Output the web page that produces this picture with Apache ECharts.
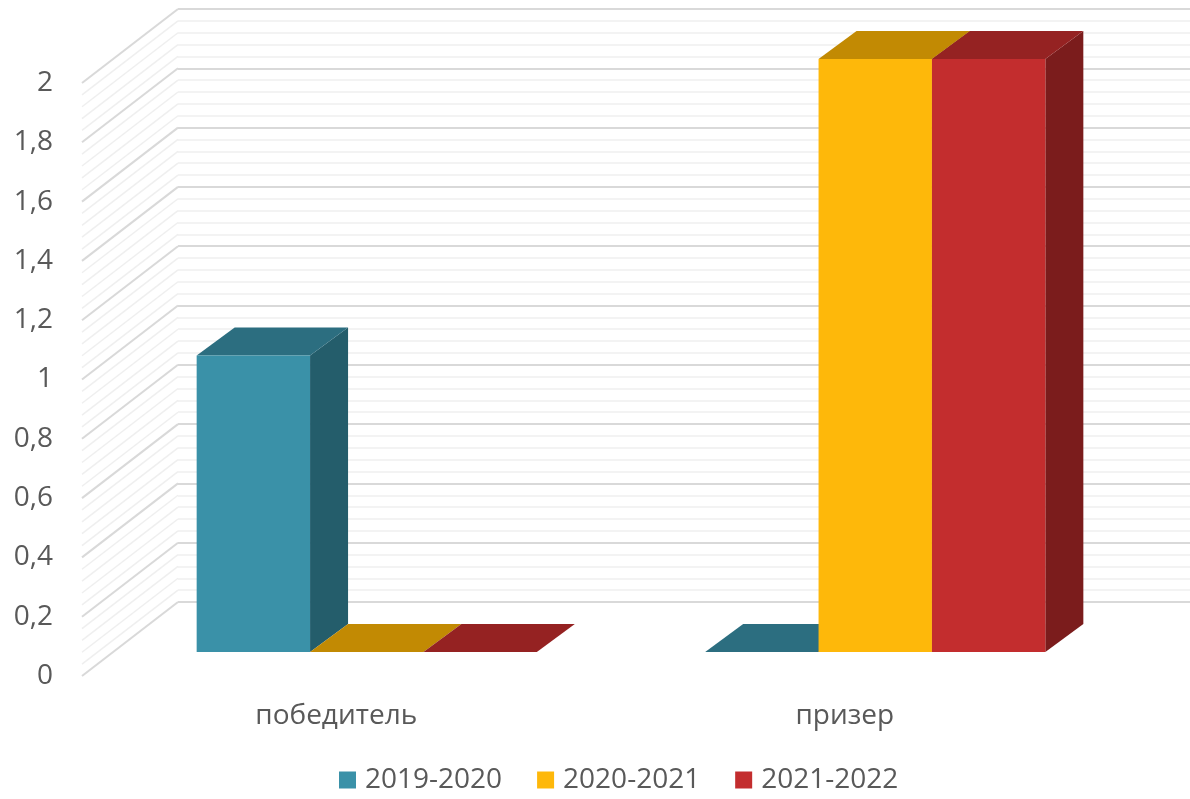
<!DOCTYPE html>
<html>
<head>
<meta charset="utf-8">
<script src="https://cdn.jsdelivr.net/npm/echarts@6/dist/echarts.min.js"></script>
<style>
html,body{margin:0;padding:0;background:#fff;}
#chart{width:1190px;height:799px;}
</style>
</head>
<body>
<div id="chart"></div>
<script>
// ---- data ----
const categories = ['победитель', 'призер'];
const seriesNames = ['2019-2020', '2020-2021', '2021-2022'];
const values2019 = [1, 0];
const values2020 = [0, 2];
const values2021 = [0, 2];
const yMin = 0;
const yMax = 2;
const yInterval = 0.2;
const yMinorSplit = 5;

// ---- style ----
const FONT = '"Open Sans", "Noto Sans", sans-serif';
const TEXT = '#595959';
const faceColors = [
  { front: '#3A91A8', top: '#2C6E80', side: '#245D6B' },
  { front: '#FEB80A', top: '#C28A03', side: '#A87702' },
  { front: '#C32D2E', top: '#952222', side: '#7B1C1C' }
];
const WALL_DX = 96, WALL_DY = -74;   // depth of the chart floor (pixels)
const BAR_DX = 38, BAR_DY = -28;     // depth of a bar (pixels)
const BAR_FRAC = 0.223;              // bar width as share of a category

const seriesValues = [values2019, values2020, values2021];

// wall tick values derived from the axis settings
const wallTicks = [];
const nMinor = Math.round((yMax - yMin) / yInterval * yMinorSplit);
for (let i = 0; i <= nMinor; i++) {
  wallTicks.push([yMin + (yMax - yMin) * i / nMinor, i % yMinorSplit === 0 ? 1 : 0]);
}

function fmt(v) { return (+v.toFixed(1)).toString().replace('.', ','); }

const chart = echarts.init(document.getElementById('chart'), null, { renderer: 'canvas' });

const barSeries = seriesValues.map(function (vals, k) {
  const c = faceColors[k];
  return {
    type: 'custom',
    name: seriesNames[k],
    xAxisIndex: 2, yAxisIndex: 2,
    z: 10 + k,
    itemStyle: { color: c.front },
    data: vals.map(function (v, i) { return [i, v]; }),
    renderItem: function (params, api) {
      const base = api.coord([api.value(0), 0]);
      const topP = api.coord([api.value(0), api.value(1)]);
      const w = api.size([1, 0])[0] * BAR_FRAC;
      const x0 = base[0] + (k - 1.5) * w;
      const x1 = x0 + w;
      const yb = base[1], yt = topP[1];
      return {
        type: 'group',
        children: [
          { type: 'polygon', shape: { points: [[x1, yt], [x1 + BAR_DX, yt + BAR_DY], [x1 + BAR_DX, yb + BAR_DY], [x1, yb]] }, style: { fill: c.side } },
          { type: 'polygon', shape: { points: [[x0, yt], [x1, yt], [x1 + BAR_DX, yt + BAR_DY], [x0 + BAR_DX, yt + BAR_DY]] }, style: { fill: c.top } },
          { type: 'rect', shape: { x: x0, y: yt, width: w, height: yb - yt }, style: { fill: c.front } }
        ]
      };
    }
  };
});

const option = {
  animation: false,
  backgroundColor: '#ffffff',
  textStyle: { fontFamily: FONT },
  legend: {
    data: seriesNames,
    top: 766,
    left: 339,
    padding: 0,
    icon: 'rect',
    itemWidth: 17,
    itemHeight: 17,
    itemGap: 35,
    textStyle: { fontFamily: FONT, fontSize: 28, color: TEXT, padding: [0, 0, 0, 4] }
  },
  grid: [
    { left: 82, top: 83, width: 1017, height: 593 },   // front plane
    { left: 178, top: 9, width: 1017, height: 593 },   // back wall
    { left: 112.5, top: 59, width: 1017, height: 593 } // bar front plane
  ],
  xAxis: [
    { type: 'category', gridIndex: 0, data: categories, axisLine: { show: false }, axisTick: { show: false },
      axisLabel: { fontFamily: FONT, fontSize: 28, color: TEXT, margin: 26 } },
    { type: 'category', gridIndex: 1, data: categories, show: false },
    { type: 'category', gridIndex: 2, data: categories, show: false }
  ],
  yAxis: [
    { type: 'value', gridIndex: 0, min: yMin, max: yMax, interval: yInterval,
      axisLine: { show: false }, axisTick: { show: false }, splitLine: { show: false },
      axisLabel: { fontFamily: FONT, fontSize: 28, color: TEXT, margin: 29, formatter: fmt } },
    { type: 'value', gridIndex: 1, min: yMin, max: yMax, interval: yInterval,
      axisLine: { show: false }, axisTick: { show: false }, axisLabel: { show: false },
      splitLine: { show: true, lineStyle: { color: '#d9d9d9', width: 2 } },
      minorTick: { show: false, splitNumber: yMinorSplit },
      minorSplitLine: { show: true, lineStyle: { color: '#efefef', width: 1.5 } } },
    { type: 'value', gridIndex: 2, min: yMin, max: yMax, show: false }
  ],
  series: [
    {
      type: 'custom',
      name: 'wall',
      xAxisIndex: 0, yAxisIndex: 0,
      z: 1,
      silent: true,
      data: wallTicks,
      renderItem: function (params, api) {
        const p = api.coord([0, api.value(0)]);
        const x = params.coordSys.x;
        const major = api.value(1) === 1;
        return {
          type: 'line',
          shape: { x1: x, y1: p[1], x2: x + WALL_DX, y2: p[1] + WALL_DY },
          style: { stroke: major ? '#d9d9d9' : '#efefef', lineWidth: major ? 2 : 1.5 }
        };
      }
    }
  ].concat(barSeries)
};
chart.setOption(option);
</script>
</body>
</html>
